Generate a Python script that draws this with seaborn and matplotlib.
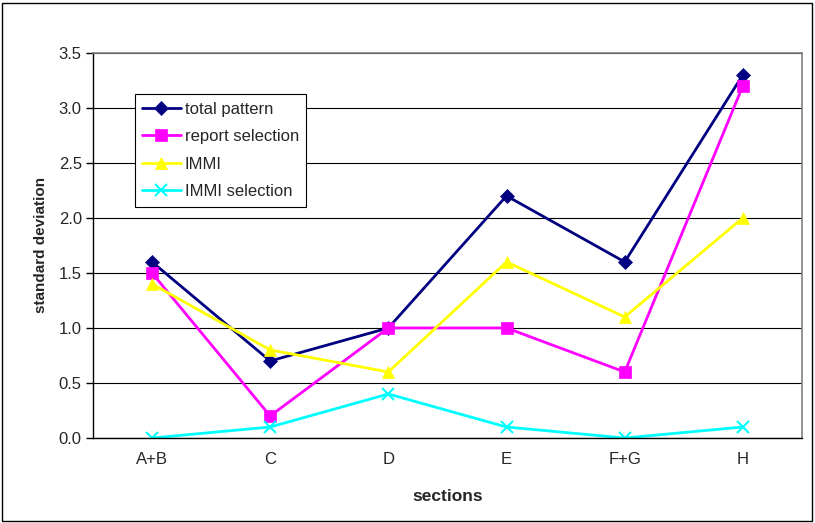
import matplotlib
matplotlib.use("Agg")
import matplotlib.pyplot as plt
import seaborn as sns
import pandas as pd
from matplotlib.patches import Rectangle

sections = ["A+B", "C", "D", "E", "F+G", "H"]
total_pattern = [1.6, 0.7, 1.0, 2.2, 1.6, 3.3]
report_selection = [1.5, 0.2, 1.0, 1.0, 0.6, 3.2]
immi = [1.4, 0.8, 0.6, 1.6, 1.1, 2.0]
immi_selection = [0.0, 0.1, 0.4, 0.1, 0.0, 0.1]

series_names = ["total pattern", "report selection", "IMMI", "IMMI selection"]
series_values = [total_pattern, report_selection, immi, immi_selection]
colors = ["#000080", "#FF00FF", "#FFFF00", "#00FFFF"]
markers = ["D", "s", "^", "x"]
msizes = [7, 9, 9, 9]

rows = []
for name, vals in zip(series_names, series_values):
    for i, v in enumerate(vals):
        rows.append({"pos": i, "section": sections[i], "value": v, "series": name})
df = pd.DataFrame(rows)

sns.set_theme(style="white")
plt.rcParams["font.family"] = ["Liberation Sans", "DejaVu Sans"]

fig = plt.figure(figsize=(8.15, 5.23), dpi=100)
ax = fig.add_axes([0.114, 0.1625, 0.870, 0.7365])

for name, c, m, ms in zip(series_names, colors, markers, msizes):
    sub = df[df["series"] == name]
    sns.lineplot(data=sub, x="pos", y="value", ax=ax, color=c, marker=m,
                 markersize=ms, linewidth=2, label=name, sort=False,
                 markeredgecolor=c, markeredgewidth=1.5 if m == "x" else 0.5)

ax.set_xlim(-0.5, len(sections) - 0.5)
ax.set_ylim(0, 3.5)
ax.set_yticks([0, 0.5, 1.0, 1.5, 2.0, 2.5, 3.0, 3.5])
ax.set_yticklabels([f"{t:.1f}" for t in ax.get_yticks()], fontsize=12)
ax.set_xticks(range(len(sections)))
ax.set_xticklabels(sections, fontsize=12)
ax.set_xticks([i - 0.5 for i in range(len(sections) + 1)], minor=True)
ax.tick_params(axis="x", which="major", length=0, pad=10)
ax.tick_params(axis="x", which="minor", length=5, direction="out", width=1, color="black")
ax.tick_params(axis="y", which="major", length=5, direction="out", width=1, color="black", left=True, pad=3)
ax.yaxis.grid(True, color="#000000", linewidth=0.8)
ax.set_axisbelow(True)

for s in ["left", "bottom"]:
    ax.spines[s].set_color("black")
    ax.spines[s].set_linewidth(1)
for s in ["top", "right"]:
    ax.spines[s].set_color("#808080")
    ax.spines[s].set_linewidth(1.2)

ax.set_xlabel("sections", fontsize=12.5, fontweight="bold", labelpad=16)
ax.set_ylabel("standard deviation", fontsize=11, fontweight="bold", labelpad=8)

leg = ax.legend(loc="upper left", bbox_to_anchor=(0.059, 0.893), frameon=True,
                fancybox=False, edgecolor="black", framealpha=1, fontsize=12,
                handlelength=2.3, borderpad=0.45, labelspacing=0.75, handletextpad=0.25,
                borderaxespad=0)
leg.get_frame().set_linewidth(0.8)

fig.patches.append(Rectangle((0.002, 0.004), 0.994, 0.99, transform=fig.transFigure,
                             fill=False, edgecolor="black", linewidth=1))

fig.savefig("out.png", dpi=100)
